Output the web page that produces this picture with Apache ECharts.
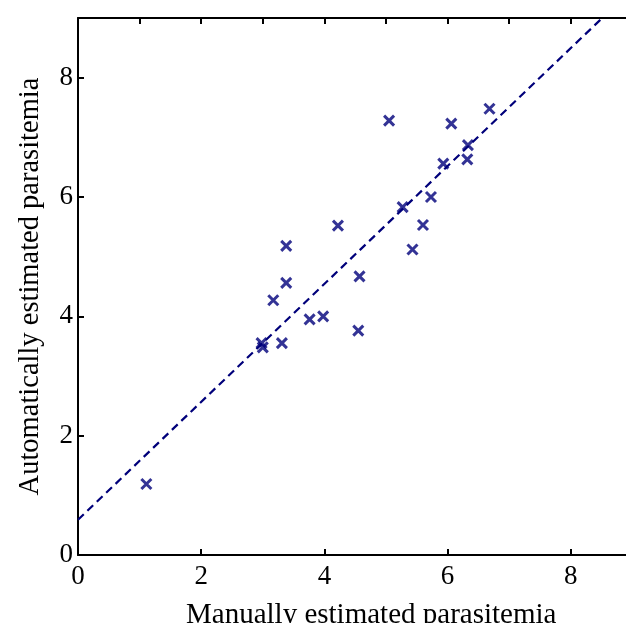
<!DOCTYPE html>
<html>
<head>
<meta charset="utf-8">
<script src="https://cdn.jsdelivr.net/npm/echarts@6/dist/echarts.min.js"></script>
<style>html,body{margin:0;padding:0;background:#fff;}#c{width:626px;height:623px;}</style>
</head>
<body>
<div id="c"></div>
<script>
// Manually estimated parasitemia (x) vs automatically estimated (y)
var manual = [1.11, 2.98, 3.00, 3.31, 3.17, 3.38, 3.38, 3.76, 3.98, 4.22, 4.55, 4.57, 5.05, 5.27, 5.43, 5.60, 5.73, 5.93, 6.06, 6.32, 6.33, 6.68];
var automatic = [1.19, 3.55, 3.48, 3.55, 4.27, 4.56, 5.18, 3.95, 4.00, 5.52, 3.76, 4.67, 7.28, 5.83, 5.12, 5.53, 6.00, 6.56, 7.23, 6.63, 6.87, 7.48];
// fitted line endpoints
var fitX = [0, 8.51];
var fitY = [0.59, 9.0];
var majorTicks = [0, 2, 4, 6, 8];
var topTicks = [1, 2, 3, 4, 5, 6, 7, 8];

var pts = manual.map(function (x, i) { return [x, automatic[i]]; });
var fit = fitX.map(function (x, i) { return [x, fitY[i]]; });
var navy = '#00007a';
var font = 'Liberation Serif';

var chart = echarts.init(document.getElementById('c'), null, {renderer: 'canvas'});
chart.setOption({
  animation: false,
  backgroundColor: '#fff',
  grid: {left: 78, top: 18, width: 554.4, height: 537, containLabel: false, outerBoundsMode: 'none'},
  xAxis: [{
    type: 'value', min: 0, max: 9, position: 'bottom',
    name: 'Manually estimated parasitemia', nameLocation: 'middle', nameGap: 46,
    nameTextStyle: {fontFamily: font, fontSize: 29, color: '#000', padding: [0, 0, 0, 32]},
    axisLine: {show: true, onZero: false, lineStyle: {color: '#000', width: 2}},
    axisTick: {show: true, inside: true, length: 6, customValues: majorTicks, lineStyle: {color: '#000', width: 2}},
    axisLabel: {customValues: majorTicks, fontFamily: font, fontSize: 27, color: '#000', margin: 8},
    splitLine: {show: false}
  }, {
    type: 'value', min: 0, max: 9, position: 'top',
    axisLine: {show: true, onZero: false, lineStyle: {color: '#000', width: 2}},
    axisTick: {show: true, inside: true, length: 6, customValues: topTicks, lineStyle: {color: '#000', width: 2}},
    axisLabel: {show: false},
    splitLine: {show: false}
  }],
  yAxis: [{
    type: 'value', min: 0, max: 9, position: 'left',
    name: 'Automatically estimated parasitemia', nameLocation: 'middle', nameGap: 33,
    nameTextStyle: {fontFamily: font, fontSize: 28.5, color: '#000'},
    axisLine: {show: true, onZero: false, lineStyle: {color: '#000', width: 2}},
    axisTick: {show: true, inside: true, length: 6, customValues: majorTicks, lineStyle: {color: '#000', width: 2}},
    axisLabel: {customValues: majorTicks, fontFamily: font, fontSize: 27, color: '#000', margin: 5},
    splitLine: {show: false}
  }],
  series: [{
    type: 'line', data: fit, xAxisIndex: 0, yAxisIndex: 0,
    showSymbol: false, symbol: 'none',
    lineStyle: {color: navy, width: 2.2, type: [8, 5]},
    z: 2
  }, {
    type: 'scatter', data: pts, xAxisIndex: 0, yAxisIndex: 0,
    symbol: 'path://M0,0 L10,10 M10,0 L0,10', symbolSize: 10,
    itemStyle: {color: 'rgba(0,0,0,0)', borderColor: navy, borderWidth: 3},
    z: 3
  }]
});
</script>
</body>
</html>
